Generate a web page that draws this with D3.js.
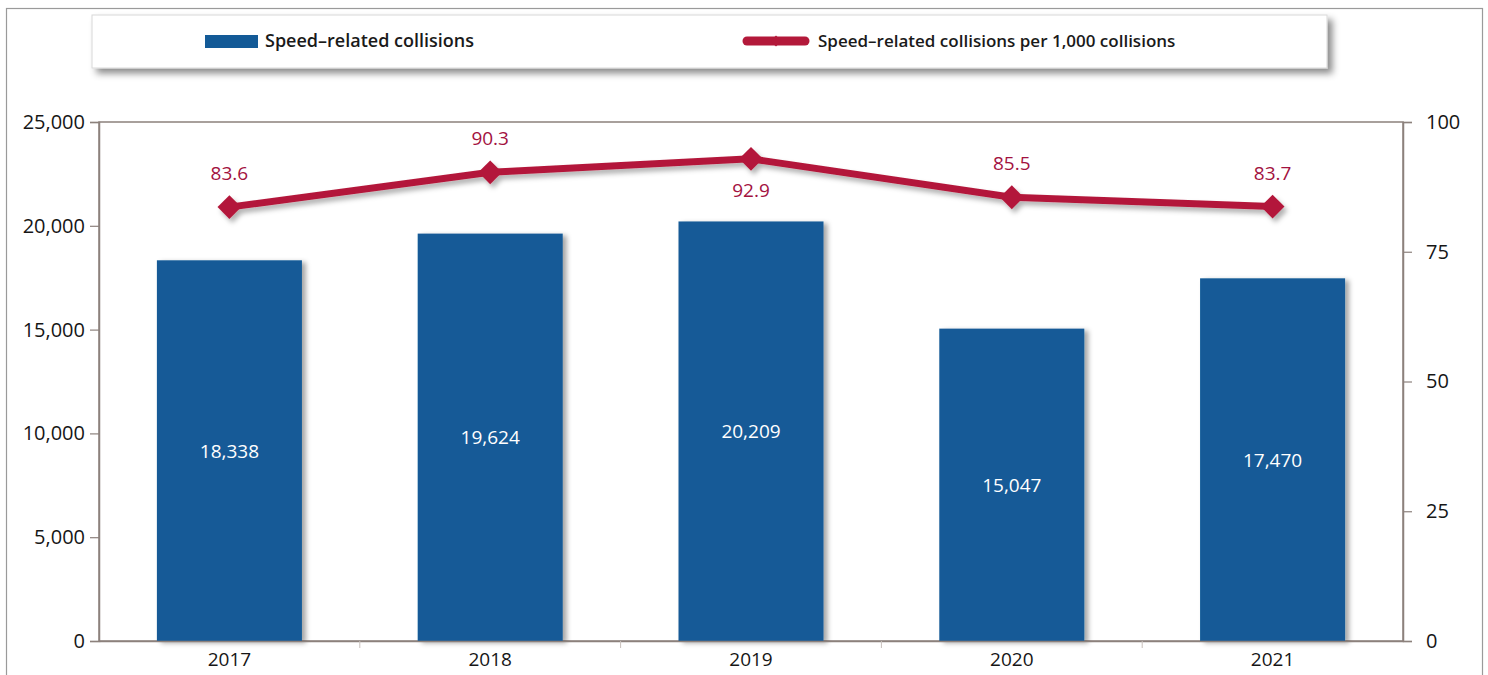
<!DOCTYPE html>
<html>
<head>
<meta charset="utf-8">
<script src="https://cdn.jsdelivr.net/npm/d3@7"></script>
<style>
  html, body { margin: 0; padding: 0; background: #fff; }
  svg { display: block; font-family: "Open Sans", "Noto Sans", sans-serif; }
</style>
</head>
<body>
<svg id="chart" width="1488" height="675"></svg>
<script>
const years = ["2017", "2018", "2019", "2020", "2021"];
const collisions = [18338, 19624, 20209, 15047, 17470];
const perThousand = [83.6, 90.3, 92.9, 85.5, 83.7];
const leftTicks = [0, 5000, 10000, 15000, 20000, 25000];
const rightTicks = [0, 25, 50, 75, 100];
const labelBelow = [false, false, true, false, false];
const seriesNames = ["Speed\u2013related collisions", "Speed\u2013related collisions per 1,000 collisions"];

const W = 1488, H = 675;
const m = { left: 99, right: 1403, top: 122, bottom: 641 };
const blue = "#135a97", red = "#b3193a", redText = "#a3123f", axisCol = "#8c817c";

const svg = d3.select("#chart");
const defs = svg.append("defs");
const f1 = defs.append("filter").attr("id", "sh").attr("x", "-5%").attr("y", "-20%").attr("width", "115%").attr("height", "170%");
f1.append("feDropShadow").attr("dx", 5).attr("dy", 5).attr("stdDeviation", 3.5).attr("flood-color", "#000").attr("flood-opacity", 0.45);
const f2 = defs.append("filter").attr("id", "bsh").attr("x", "-10%").attr("y", "-10%").attr("width", "130%").attr("height", "120%");
f2.append("feDropShadow").attr("dx", 4).attr("dy", 2).attr("stdDeviation", 2.5).attr("flood-color", "#000").attr("flood-opacity", 0.35);
const f3 = defs.append("filter").attr("id", "lsh").attr("x", "-10%").attr("y", "-50%").attr("width", "130%").attr("height", "200%");
f3.append("feDropShadow").attr("dx", 3).attr("dy", 4).attr("stdDeviation", 2.5).attr("flood-color", "#000").attr("flood-opacity", 0.3);

// outer frame
svg.append("rect").attr("x", 6.5).attr("y", 8.5).attr("width", 1476).attr("height", 680)
  .attr("fill", "#fff").attr("stroke", "#9a9a9a").attr("stroke-width", 1.2);

// legend box
svg.append("rect").attr("x", 92).attr("y", 15).attr("width", 1235).attr("height", 53)
  .attr("fill", "#fff").attr("stroke", "#d8d8d8").attr("filter", "url(#sh)");
svg.append("rect").attr("x", 205).attr("y", 35).attr("width", 53).attr("height", 13).attr("fill", blue);
svg.append("text").attr("x", 265).attr("y", 47).attr("font-size", 18).attr("font-weight", 600)
  .attr("fill", "#1a1a1a").text(seriesNames[0]);
svg.append("line").attr("x1", 747).attr("x2", 805).attr("y1", 41).attr("y2", 41)
  .attr("stroke", red).attr("stroke-width", 9).attr("stroke-linecap", "round");
svg.append("path").attr("d", d3.symbol(d3.symbolDiamond2, 80)()).attr("transform", "translate(776,41)").attr("fill", red);
svg.append("text").attr("x", 818).attr("y", 47).attr("font-size", 17).attr("font-weight", 600)
  .attr("fill", "#1a1a1a").text(seriesNames[1]);

// scales
const x = d3.scaleBand().domain(years).range([m.left, m.right]).paddingInner(0.444).paddingOuter(0.222);
const xc = d3.scaleBand().domain(years).range([m.left, m.right]);
const yL = d3.scaleLinear().domain([0, 25000]).range([m.bottom, m.top]);
const yR = d3.scaleLinear().domain([0, 100]).range([m.bottom, m.top]);

// plot frame
svg.append("rect").attr("x", m.left).attr("y", m.top).attr("width", m.right - m.left).attr("height", m.bottom - m.top)
  .attr("fill", "#fff").attr("stroke", axisCol).attr("stroke-width", 1.5);

// bars
svg.append("g").selectAll("rect").data(years).join("rect")
  .attr("x", d => x(d)).attr("width", x.bandwidth())
  .attr("y", (d, i) => yL(collisions[i])).attr("height", (d, i) => yL(0) - yL(collisions[i]))
  .attr("fill", blue).attr("filter", "url(#bsh)");

// bar labels
svg.append("g").selectAll("text").data(years).join("text")
  .attr("x", d => x(d) + x.bandwidth() / 2)
  .attr("y", (d, i) => (yL(collisions[i]) + yL(0)) / 2 + 7)
  .attr("text-anchor", "middle").attr("fill", "#fff").attr("font-size", 19).attr("font-weight", 500)
  .text((d, i) => d3.format(",")(collisions[i]));

// axes
const fmt = d3.format(",");
const gL = svg.append("g").attr("transform", `translate(${m.left},0)`)
  .call(d3.axisLeft(yL).tickValues(leftTicks).tickFormat(fmt).tickSize(9).tickPadding(5));
const gR = svg.append("g").attr("transform", `translate(${m.right},0)`)
  .call(d3.axisRight(yR).tickValues(rightTicks).tickSize(9).tickPadding(14));
const gB = svg.append("g").attr("transform", `translate(0,${m.bottom})`)
  .call(d3.axisBottom(xc).tickSize(0).tickPadding(11));
[gL, gR, gB].forEach(g => {
  g.select(".domain").attr("stroke", axisCol).attr("stroke-width", 1.5);
  g.selectAll(".tick line").attr("stroke", axisCol).attr("stroke-width", 1.2);
  g.selectAll("text").attr("font-size", 20).attr("font-weight", 500).attr("fill", "#161616")
    .attr("font-family", "Open Sans, sans-serif");
});
gB.selectAll("text").attr("font-size", 19).attr("dy", "0.75em");
// bottom minor ticks at category boundaries
svg.append("g").selectAll("line").data(years.slice(1)).join("line")
  .attr("x1", d => xc(d)).attr("x2", d => xc(d)).attr("y1", m.bottom).attr("y2", m.bottom + 7)
  .attr("stroke", "#c8c0bc").attr("stroke-width", 1);

// line
const cx = (d, i) => xc(years[i]) + xc.bandwidth() / 2;
const line = d3.line().x((d, i) => cx(d, i)).y(d => yR(d));
const lg = svg.append("g").attr("filter", "url(#lsh)");
lg.append("path").datum(perThousand).attr("d", line).attr("fill", "none")
  .attr("stroke", red).attr("stroke-width", 7).attr("stroke-linejoin", "round");
lg.selectAll("path.mk").data(perThousand).join("path").attr("class", "mk")
  .attr("d", d3.symbol(d3.symbolDiamond2, 360)())
  .attr("transform", (d, i) => `translate(${cx(d, i)},${yR(d)})`).attr("fill", red);

// line labels
svg.append("g").selectAll("text").data(perThousand).join("text")
  .attr("x", (d, i) => cx(d, i))
  .attr("y", (d, i) => labelBelow[i] ? yR(d) + 38 : yR(d) - 27)
  .attr("text-anchor", "middle").attr("fill", redText).attr("font-size", 19).attr("font-weight", 500)
  .text(d => d.toFixed(1));
</script>
</body>
</html>
